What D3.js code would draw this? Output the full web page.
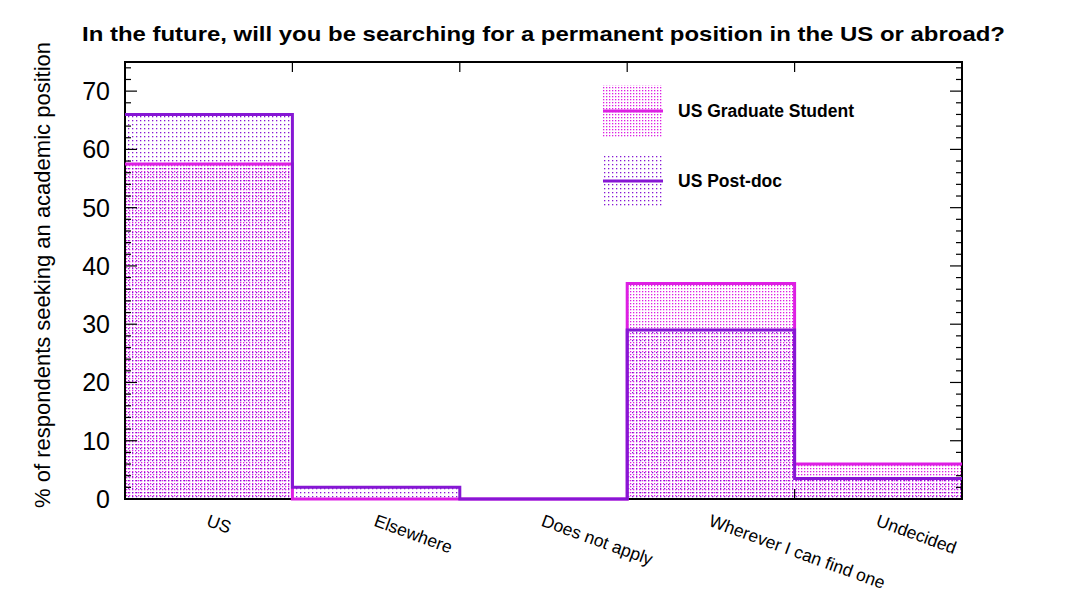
<!DOCTYPE html>
<html>
<head>
<meta charset="utf-8">
<script src="https://cdn.jsdelivr.net/npm/d3@7"></script>
<style>
  body { margin: 0; background: #fff; }
  text { font-family: "Liberation Sans", Arial, sans-serif; }
</style>
</head>
<body>
<div id="chart"></div>
<script>
var categories = ["US", "Elsewhere", "Does not apply", "Wherever I can find one", "Undecided"];
var gradValues = [57.5, 0, 0, 37, 6];
var postdocValues = [66, 2, 0, 29, 3.5];
var seriesNames = ["US Graduate Student", "US Post-doc"];
var yTicks = [0, 10, 20, 30, 40, 50, 60, 70];

var width = 1071;
var height = 593;

var margin = {
    top: 62,
    bottom: 94,
    left: 125,
    right: 109
};

var gradColour = "#dd1fe3";
var postdocColour = "#8617d4";

var svg = d3.select("#chart")
    .append("svg")
    .attr("width", width)
    .attr("height", height);

var defs = svg.append("defs");

// dotted fills like gnuplot's pattern fill
function dotPattern(id, colour, step) {
    var p = defs.append("pattern")
        .attr("id", id)
        .attr("patternUnits", "userSpaceOnUse")
        .attr("width", step)
        .attr("height", step);
    p.append("rect")
        .attr("x", 0)
        .attr("y", 0)
        .attr("width", 1.3)
        .attr("height", 1.3)
        .attr("fill", colour);
}
dotPattern("gradDots", gradColour, 3);
dotPattern("postdocDots", postdocColour, 4);

var xScale = d3.scaleBand()
    .domain(categories)
    .range([margin.left, width - margin.right])
    .padding(0);

var yScale = d3.scaleLinear()
    .domain([0, 75])
    .range([height - margin.bottom, margin.top]);

var series = [
    { name: seriesNames[0], values: gradValues, colour: gradColour, fill: "url(#gradDots)" },
    { name: seriesNames[1], values: postdocValues, colour: postdocColour, fill: "url(#postdocDots)" }
];

function stepPoints(values) {
    var pts = [];
    categories.forEach(function(c, i) {
        pts.push([xScale(c), values[i]]);
        pts.push([xScale(c) + xScale.bandwidth(), values[i]]);
    });
    return pts;
}

var area = d3.area()
    .x(function(d) { return d[0]; })
    .y0(yScale(0))
    .y1(function(d) { return yScale(d[1]); });

var line = d3.line()
    .x(function(d) { return d[0]; })
    .y(function(d) { return yScale(d[1]); });

// fills
series.forEach(function(s) {
    svg.append("path")
        .attr("d", area(stepPoints(s.values)))
        .attr("fill", s.fill);
});

// frame
var x0 = margin.left, x1 = width - margin.right;
var y0 = yScale(0), y1 = yScale(75);

svg.append("rect")
    .attr("x", x0)
    .attr("y", y1)
    .attr("width", x1 - x0)
    .attr("height", y0 - y1)
    .attr("fill", "none")
    .attr("stroke", "black")
    .attr("stroke-width", 2);

// y ticks, major and minor, mirrored on the right
d3.range(0, 76, 2).forEach(function(v) {
    var major = v % 10 === 0;
    var len = major ? 12 : 6;
    var y = yScale(v);
    svg.append("line")
        .attr("x1", x0).attr("x2", x0 + len)
        .attr("y1", y).attr("y2", y)
        .attr("stroke", "black").attr("stroke-width", 1.2);
    svg.append("line")
        .attr("x1", x1).attr("x2", x1 - len)
        .attr("y1", y).attr("y2", y)
        .attr("stroke", "black").attr("stroke-width", 1.2);
});

// x ticks at category boundaries
categories.slice(1).forEach(function(c) {
    var x = xScale(c);
    svg.append("line")
        .attr("x1", x).attr("x2", x)
        .attr("y1", y0).attr("y2", y0 - 10)
        .attr("stroke", "black").attr("stroke-width", 1.2);
    svg.append("line")
        .attr("x1", x).attr("x2", x)
        .attr("y1", y1).attr("y2", y1 + 10)
        .attr("stroke", "black").attr("stroke-width", 1.2);
});

// step outlines on top of the frame
series.forEach(function(s) {
    svg.append("path")
        .attr("d", line(stepPoints(s.values)))
        .attr("fill", "none")
        .attr("stroke", s.colour)
        .attr("stroke-width", 3);
});

svg.selectAll(".ytick")
    .data(yTicks)
    .enter()
    .append("text")
    .attr("class", "ytick")
    .attr("x", 110)
    .attr("y", function(d) { return yScale(d); })
    .attr("dy", "0.36em")
    .attr("text-anchor", "end")
    .attr("font-size", "25px")
    .text(function(d) { return d; });

svg.selectAll(".xlabel")
    .data(categories)
    .enter()
    .append("text")
    .attr("class", "xlabel")
    .attr("transform", function(d) {
        return "translate(" + (xScale(d) + xScale.bandwidth() / 2 + 1) + "," + (y0 + 15) + ") rotate(20)";
    })
    .attr("dy", "0.7em")
    .attr("font-size", "17.5px")
    .text(function(d) { return d; });

svg.append("text")
    .attr("transform", "translate(50,275) rotate(-90)")
    .attr("text-anchor", "middle")
    .attr("font-size", "22px")
    .text("% of respondents seeking an academic position");

svg.append("text")
    .attr("x", 82)
    .attr("y", 41)
    .attr("textLength", 923)
    .attr("lengthAdjust", "spacingAndGlyphs")
    .attr("font-size", "21px")
    .attr("font-weight", "bold")
    .text("In the future, will you be searching for a permanent position in the US or abroad?");

// legend
var legend = svg.append("g")
    .attr("class", "legend");

series.forEach(function(s, i) {
    var cy = 111 + i * 70;
    legend.append("rect")
        .attr("x", 603)
        .attr("y", cy - 26)
        .attr("width", 60)
        .attr("height", 52)
        .attr("fill", s.fill);
    legend.append("line")
        .attr("x1", 603).attr("x2", 663)
        .attr("y1", cy).attr("y2", cy)
        .attr("stroke", s.colour)
        .attr("stroke-width", 3);
    legend.append("text")
        .attr("x", 678)
        .attr("y", cy)
        .attr("dy", "0.36em")
        .attr("font-size", "17.5px")
        .attr("font-weight", "bold")
        .text(s.name);
});
</script>
</body>
</html>
